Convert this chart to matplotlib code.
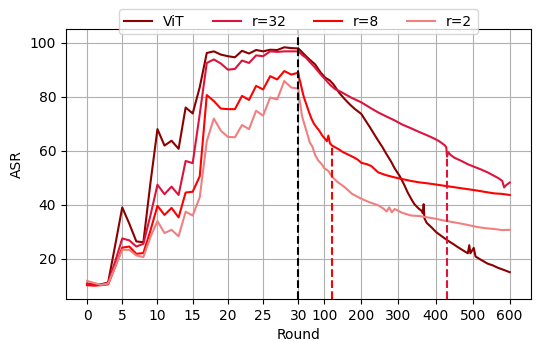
import numpy as np
import matplotlib
matplotlib.use('Agg')
import matplotlib.pyplot as plt

# rounds 0..30 (one value per round)
early_rounds = np.arange(0, 31)
vit_early = [10.8, 10.5, 10.5, 11.2, 25, 39, 33, 26.4, 26.1, 48, 68, 61.9, 63.7, 60.7, 76, 73.8,
             83.5, 96.2, 96.8, 95.6, 95, 94.6, 97, 96, 97.3, 96.8, 97.4, 97.3, 98.3, 98, 97.9]
r32_early = [10.6, 10.5, 10.3, 11, 19, 27.5, 26.8, 24.5, 25.5, 36, 47.4, 43.9, 46.7, 43.6, 56.2, 55.4,
             73.5, 92.5, 93.8, 92.3, 90, 90.3, 93.4, 92.5, 95.3, 95, 96.8, 96.6, 96.8, 96.8, 96.8]
r8_early = [10.2, 10, 10.2, 10.5, 17, 24.1, 24.5, 21.8, 22.1, 30.4, 39.6, 36.2, 38.8, 35.3, 44.5, 44.8,
            50.5, 80.6, 78.4, 75.6, 75.4, 75.4, 80.3, 78.8, 84, 82.7, 87.6, 86.4, 89.5, 88.2, 88.9]
r2_early = [11.8, 11, 10.3, 10.8, 17, 23.3, 23.3, 21.2, 20.6, 28, 33.9, 29.5, 30.7, 28.3, 37.4, 36,
            42.7, 63.5, 71.9, 67.4, 65.1, 65, 69.5, 68, 74.8, 73, 79.7, 79, 85.8, 83.4, 83]

# rounds after 30
vit_late_r = [40, 50, 60, 75, 90, 102, 115, 124, 140, 155, 170, 182, 200, 212, 223, 235, 245, 256,
              267, 280, 290, 303, 315, 325, 335, 343, 355, 362, 366, 368, 370, 376, 390, 402, 420,
              433, 447, 460, 475, 487, 491, 494, 503, 508, 520, 540, 555, 567, 585, 600]
vit_late = [96.5, 95.1, 93.8, 92, 89, 87.1, 86, 84.7, 81.5, 79.1, 77, 75.5, 73.6, 71, 68.7, 66, 63.8, 61.5,
            58.9, 56, 53.4, 50.7, 47.5, 44.5, 42, 40.2, 38.5, 37.8, 36.8, 40.2, 35, 33.3, 31.5, 29.8, 28,
            26.7, 25.5, 24.3, 23, 22, 25, 22, 24, 20.8, 19.8, 18.2, 17.5, 16.7, 15.8, 15]

r32_late_r = [40, 50, 60, 75, 90, 102, 115, 129, 145, 155, 175, 200, 225, 245, 270, 290, 310, 334, 355,
              379, 395, 410, 425, 429, 431, 434, 440, 451, 470, 487, 505, 522, 540, 558, 570, 580, 585,
              590, 600]
r32_late = [95.5, 94.5, 93, 90.8, 88.3, 86.5, 84.5, 82.8, 81.8, 81, 79.5, 77.9, 75.8, 74.2, 72.5, 71.2,
            69.7, 68.3, 67, 65.6, 64.6, 63.5, 62, 61.3, 57.8, 59.5, 58.5, 57.4, 56.2, 55, 54, 53.1, 52,
            50.7, 49.8, 48.8, 46.4, 47.2, 48.2]

r8_late_r = [31, 33, 36, 40, 45, 52, 59, 65, 72, 80, 86, 95, 102, 107, 111, 115, 120, 130, 138, 150, 164,
             180, 191, 200, 215, 227, 245, 265, 290, 310, 334, 355, 379, 400, 424, 445, 469, 490, 514,
             535, 558, 580, 600]
r8_late = [88, 86.5, 85, 82.5, 79.8, 77, 74.2, 72, 70, 68.5, 67.5, 65.5, 64.4, 63.5, 65.6, 62.8, 62,
           61.2, 60.6, 59.5, 58.6, 57.5, 56.6, 55.5, 55, 54.3, 52, 51, 50.1, 49.5, 48.8, 48.3, 47.9,
           47.5, 47, 46.6, 46.1, 45.7, 45.2, 44.7, 44.2, 44, 43.6]

r2_late_r = [31, 33, 36, 39, 42, 48, 54, 61, 68, 75, 83, 93, 100, 111, 120, 135, 155, 175, 200, 220,
             245, 260, 268, 275, 282, 290, 310, 334, 355, 379, 400, 424, 445, 469, 490, 514, 535, 558,
             580, 600]
r2_late = [81, 79, 76.7, 73.5, 71.8, 69, 66.3, 63, 61.5, 58.5, 56.5, 55, 53.5, 52.5, 50.5, 48.5, 46.5,
           44, 42.2, 41, 39.8, 38.5, 37.5, 39, 37.2, 38.4, 37, 36, 35.8, 35.3, 34.8, 34.1, 33.6, 33,
           32.4, 31.7, 31.3, 31, 30.6, 30.7]

labels = ['ViT', 'r=32', 'r=8', 'r=2']
colors = ['darkred', 'crimson', 'red', 'lightcoral']

# dashed markers after round 30
mark_rounds = [120, 430]
mark_tops = [62, 59]
mark_colors = ['red', 'crimson']

xticks = [0, 5, 10, 15, 20, 25, 30, 100, 200, 300, 400, 500, 600]


def forward(r):
    r = np.asarray(r, dtype=float)
    return np.where(r <= 30, r, 30 + (r - 30) / 19)


def inverse(x):
    x = np.asarray(x, dtype=float)
    return np.where(x <= 30, x, 30 + (x - 30) * 19)


fig, ax = plt.subplots(figsize=(5.4, 3.52), dpi=100)
fig.subplots_adjust(left=0.122, right=0.983, bottom=0.15, top=0.917)
ax.set_xscale('function', functions=(forward, inverse))

series = [(vit_early, vit_late_r, vit_late), (r32_early, r32_late_r, r32_late),
          (r8_early, r8_late_r, r8_late), (r2_early, r2_late_r, r2_late)]
for (early, late_r, late), lab, col in zip(series, labels, colors):
    xs = np.concatenate([early_rounds, late_r])
    ys = np.concatenate([early, late])
    ax.plot(xs, ys, color=col, linewidth=1.5, label=lab)

ax.set_ylim(5, 105)
ax.set_xlim(-3, 657)
ax.axvline(30, color='black', linestyle='--', linewidth=1.5)
for mr, top, mc in zip(mark_rounds, mark_tops, mark_colors):
    ax.vlines(mr, 5, top, color=mc, linestyle='--', linewidth=1.5)

ax.set_xticks(xticks)
ax.set_xticklabels([str(t) for t in xticks])
ax.set_yticks([20, 40, 60, 80, 100])
ax.set_xlabel('Round')
ax.set_ylabel('ASR')
ax.grid(True)
ax.legend(loc='upper center', bbox_to_anchor=(0.5, 1.1), ncol=4)

fig.savefig('out.png', dpi=100)
